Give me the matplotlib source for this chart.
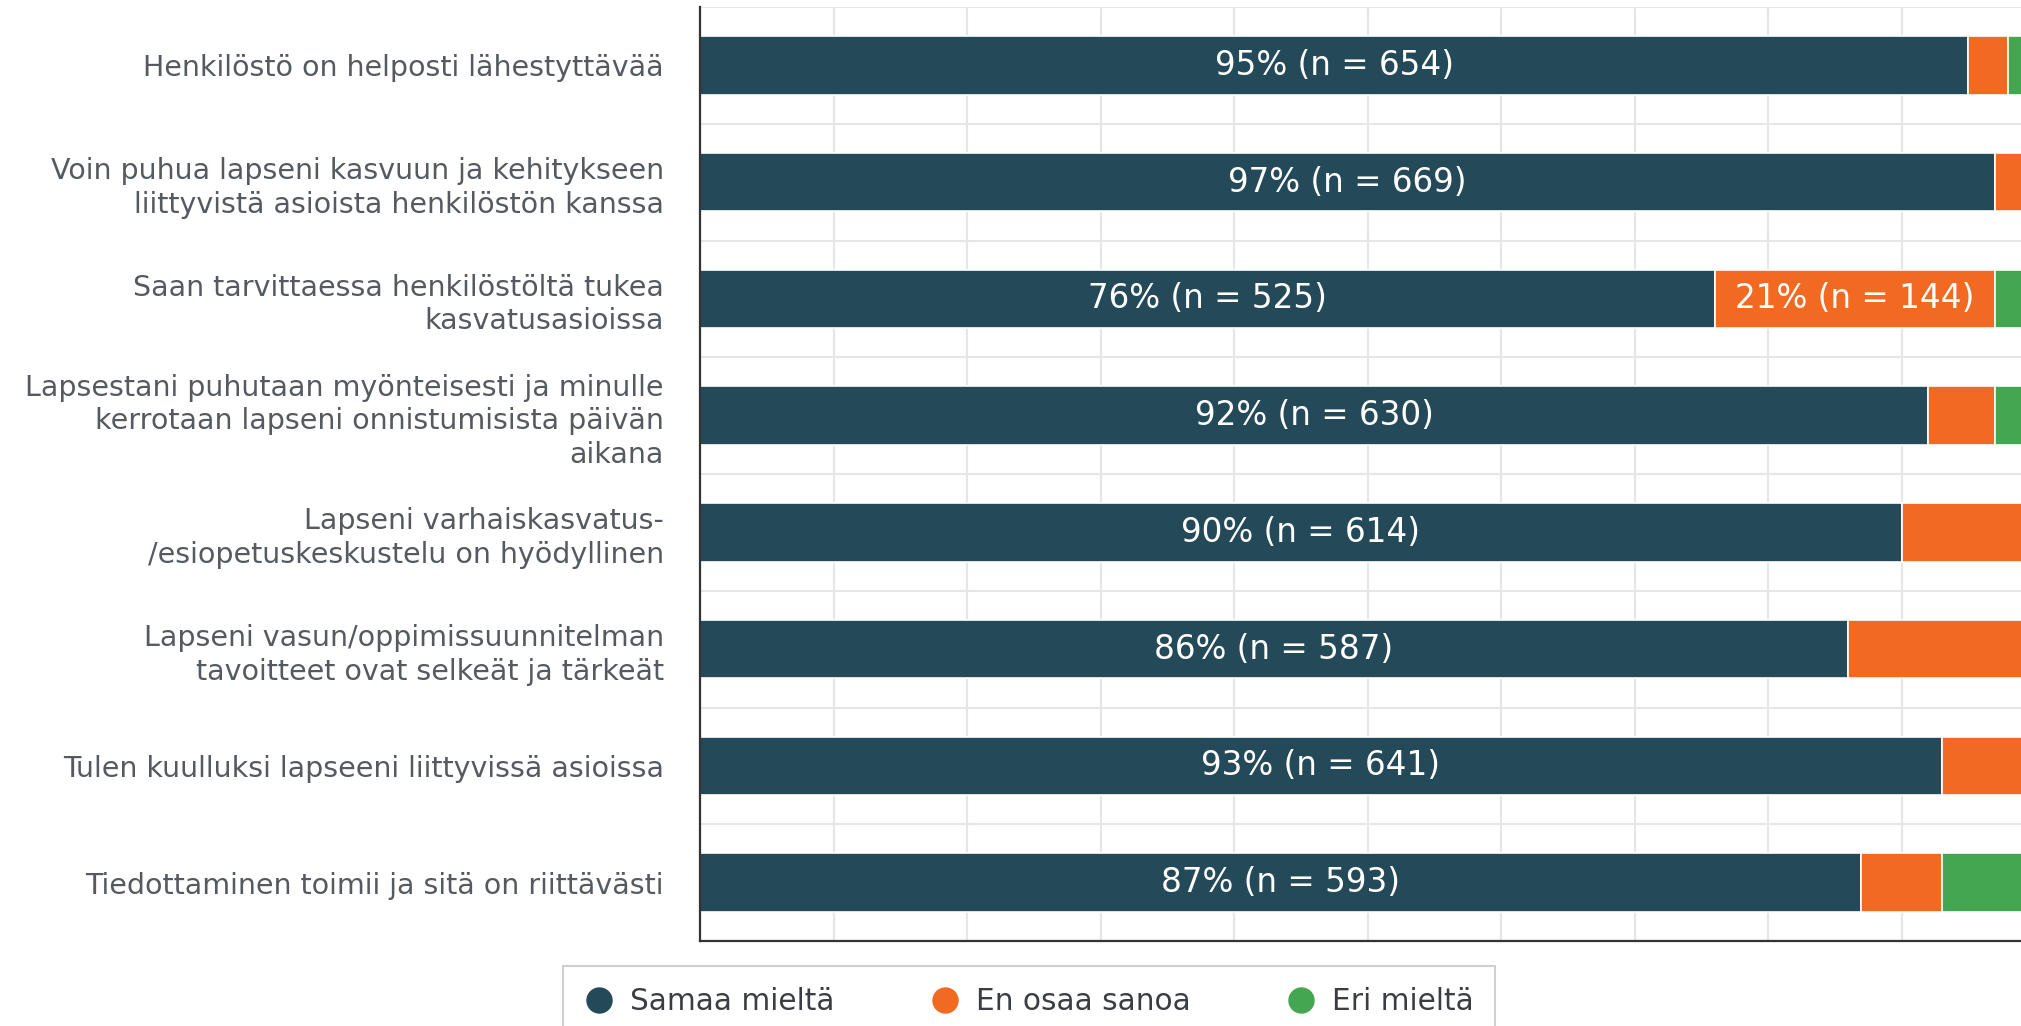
import matplotlib
matplotlib.use("Agg")
import matplotlib.pyplot as plt
from matplotlib.lines import Line2D
import numpy as np

categories = [
    "Henkilöstö on helposti lähestyttävää",
    "Voin puhua lapseni kasvuun ja kehitykseen\nliittyvistä asioista henkilöstön kanssa",
    "Saan tarvittaessa henkilöstöltä tukea\nkasvatusasioissa",
    "Lapsestani puhutaan myönteisesti ja minulle\nkerrotaan lapseni onnistumisista päivän\naikana",
    "Lapseni varhaiskasvatus-\n/esiopetuskeskustelu on hyödyllinen",
    "Lapseni vasun/oppimissuunnitelman\ntavoitteet ovat selkeät ja tärkeät",
    "Tulen kuulluksi lapseeni liittyvissä asioissa",
    "Tiedottaminen toimii ja sitä on riittävästi",
]

series_names = ["Samaa mieltä", "En osaa sanoa", "Eri mieltä"]

pct_agree = [95, 97, 76, 92, 90, 86, 93, 87]
n_agree = [654, 669, 525, 630, 614, 587, 641, 593]
pct_neutral = [3, 2, 21, 5, 9, 13, 6, 6]
n_neutral = [21, 14, 144, 34, 62, 89, 41, 42]
pct_disagree = [2, 1, 3, 3, 1, 1, 1, 7]
n_disagree = [13, 7, 21, 21, 6, 7, 7, 47]

colors = ["#244a5a", "#f26a21", "#44a650"]

fig = plt.figure(figsize=(20.21, 10.26), dpi=100)
ax = fig.add_axes([700 / 2021, 85 / 1026, 1335 / 2021, 934 / 1026])

y = np.arange(len(categories))
left = np.zeros(len(categories))
series = [(pct_agree, n_agree), (pct_neutral, n_neutral), (pct_disagree, n_disagree)]
for (pcts, ns), col in zip(series, colors):
    pcts = np.array(pcts, dtype=float)
    ax.barh(y, pcts, left=left, height=0.5, color=col, edgecolor="white",
            linewidth=1.2, zorder=2)
    for yi, l, p, n in zip(y, left, pcts, ns):
        if p >= 15:
            ax.text(l + p / 2, yi, f"{int(p)}% (n = {n})", ha="center", va="center",
                    color="white", fontsize=23.5, zorder=3)
    left = left + pcts

ax.set_xlim(0, 100)
ax.set_ylim(len(categories) - 0.5, -0.5)
ax.set_xticks(np.arange(0, 101, 10))
ax.tick_params(axis="x", length=0, labelbottom=False)
ax.set_yticks(y)
ax.set_yticklabels(categories, fontsize=20.5, color="#555a60")
for t in ax.get_yticklabels():
    t.set_linespacing(1.25)
ax.set_yticks(np.arange(-0.5, len(categories) + 0.5, 1), minor=True)
ax.tick_params(axis="y", which="both", length=0, pad=26)
ax.set_axisbelow(True)
ax.grid(True, axis="x", which="major", color="#e6e6e6", linewidth=1.5)
ax.grid(True, axis="y", which="minor", color="#e6e6e6", linewidth=1.5)
ax.grid(False, axis="y", which="major")

for s in ["top", "right"]:
    ax.spines[s].set_visible(False)
for s in ["left", "bottom"]:
    ax.spines[s].set_color("#333333")
    ax.spines[s].set_linewidth(1.6)
    ax.spines[s].set_zorder(4)

handles = [Line2D([0], [0], marker="o", linestyle="none", markersize=18,
                  markerfacecolor=c, markeredgecolor=c) for c in colors]
leg = fig.legend(handles, series_names, loc="upper left",
                 bbox_to_anchor=(563 / 2021, 1 - 966 / 1026), ncol=3,
                 fontsize=21.3, frameon=True, fancybox=False, handlelength=1.0,
                 handletextpad=0.55, columnspacing=3.22, borderpad=0.72,
                 borderaxespad=0)
leg.get_frame().set_edgecolor("#c4c4c4")
leg.get_frame().set_linewidth(1.5)
for t in leg.get_texts():
    t.set_color("#3a3d42")

fig.savefig("out.png", dpi=100, facecolor="white")
